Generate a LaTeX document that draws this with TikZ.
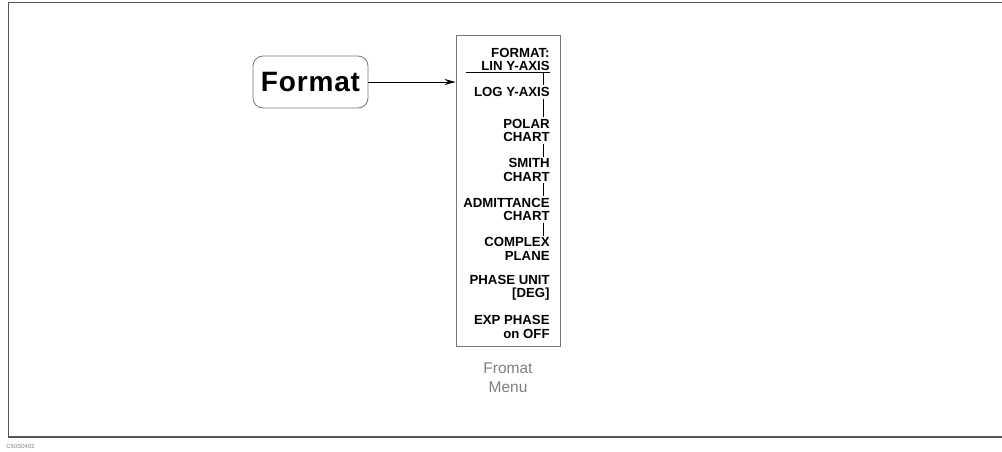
\documentclass[tikz,border=0pt]{standalone}
\usepackage{fontspec}
\setmainfont{Liberation Sans}
\usetikzlibrary{
    arrows.meta,
    positioning
}
\definecolor{framegray}{HTML}{555555}
\definecolor{boxgray}{HTML}{777777}
\tikzset{
    softkey/.style={anchor=east, align=right, inner sep=1.5pt, fill=white,
        font=\bfseries\fontsize{13.2}{13.5}\selectfont},
    hardkey/.style={draw=boxgray, rounded corners=10pt, minimum width=115pt,
        minimum height=52pt, inner sep=0pt,
        font=\bfseries\fontsize{28}{30}\selectfont\addfontfeature{LetterSpace=3}},
    menubox/.style={draw=boxgray, minimum width=104pt, minimum height=311pt, inner sep=0pt}
}

\begin{document}
\begin{tikzpicture}[x=1pt, y=-1pt, line width=0.8pt]
    \useasboundingbox (0,0) rectangle (1002,452);
    \draw[framegray, line width=1.2pt] (1002,2.5) -- (8.5,2.5) -- (8.5,437) -- (1002,437);
    \node[anchor=west, inner sep=0pt, text=gray, font=\fontsize{6}{7}\selectfont] (fig) at (6,446) {C50S0402};
    % hardkey and menu
    \node[hardkey] (format) at (310.5,82) {Format};
    \node[menubox] (menu) at (508,190.5) {};
    \draw[-{Stealth[length=11pt, width=6pt]}] (format.east) -- (format.east -| menu.west);
    % softkeys
    \node[softkey] (fmt) at (551.5,59.5) {FORMAT:\\LIN Y-AXIS};
    \node[softkey] (log) at (551.5,92) {LOG Y-AXIS};
    \node[softkey] (polar) at (551.5,130.5) {POLAR\\CHART};
    \node[softkey] (smith) at (551.5,170) {SMITH\\CHART};
    \node[softkey] (admit) at (551.5,209.5) {ADMITTANCE\\CHART};
    \node[softkey] (cplx) at (551.5,249) {COMPLEX\\PLANE};
    \node[softkey] (phase) at (551.5,288) {PHASE UNIT\\{}[DEG]};
    \node[softkey] (expph) at (551.5,327) {EXP PHASE\\on OFF};
    \coordinate (ul) at (543,72.5);
    \draw (466,72.5) -- (550,72.5);
    \draw (ul) -- (log.north -| ul);
    \foreach \a/\b in {log/polar, polar/smith, smith/admit, admit/cplx}
        \draw (\a.south -| ul) -- (\b.north -| ul);
    \node[text=gray, align=center, font=\fontsize{15.5}{18.5}\selectfont, below=13pt of menu] (title) {Fromat\\Menu};
\end{tikzpicture}
\end{document}
